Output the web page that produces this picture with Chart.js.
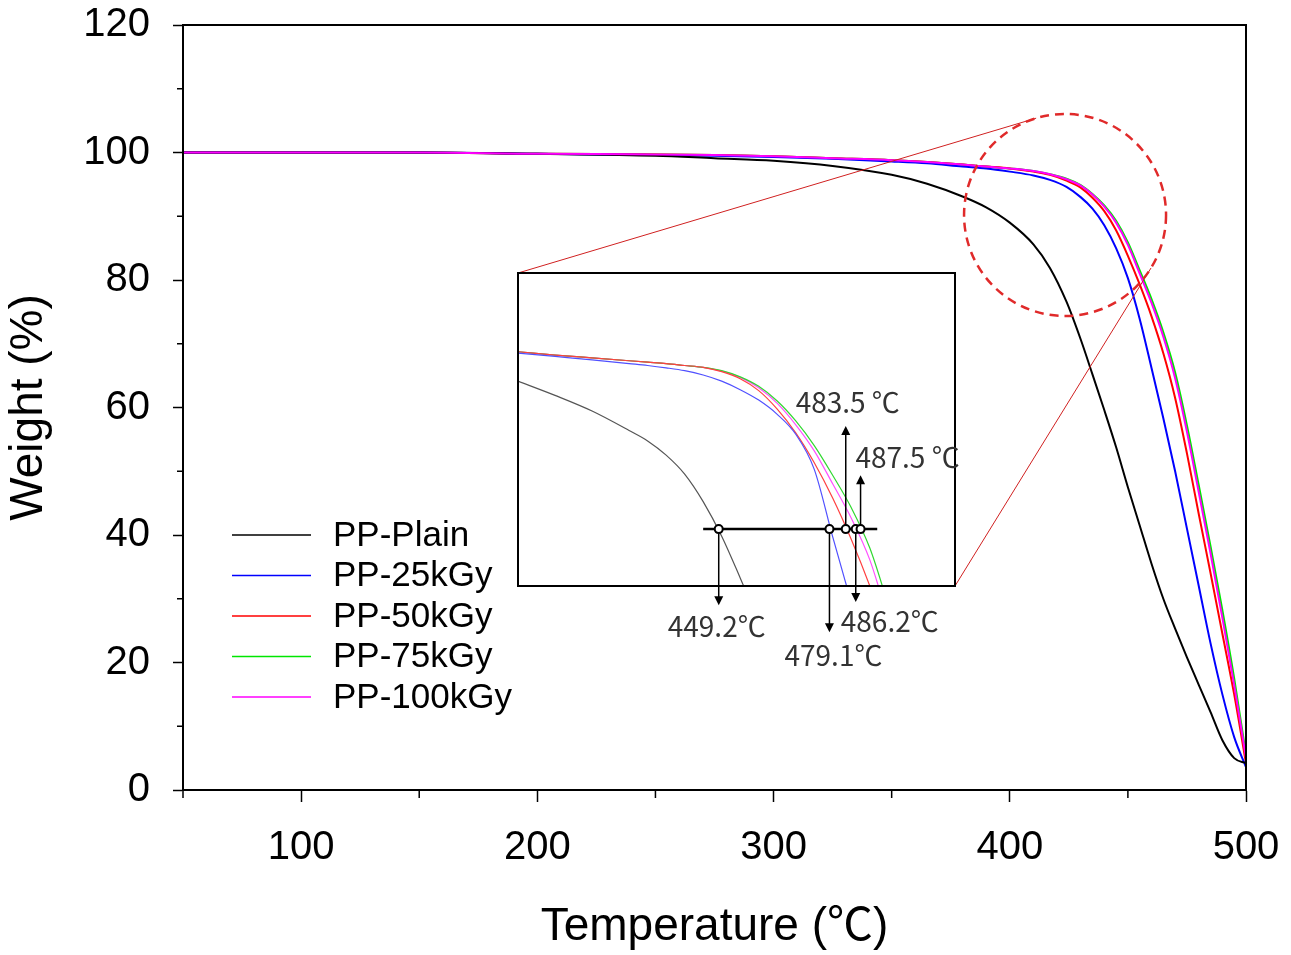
<!DOCTYPE html>
<html>
<head>
<meta charset="utf-8">
<script src="https://cdn.jsdelivr.net/npm/chart.js@4.4.0/dist/chart.umd.min.js"></script>
<style>
  body { margin: 0; background: #fff; }
  #wrap { position: relative; width: 1291px; height: 955px; }
  #mainChart { position: absolute; left: 0; top: 0; }
  #insetChart { position: absolute; left: 500px; top: 260px; }
</style>
</head>
<body>
<div id="wrap">
  <canvas id="mainChart" width="1291" height="955"></canvas>
  <canvas id="insetChart" width="480" height="420"></canvas>
</div>
<script>
// TGA curves, weight (%) vs temperature
const temps = [50, 100, 150, 200, 250, 275, 300, 325, 350, 365, 380, 390, 400, 410, 417, 424, 430, 435, 440, 445, 450, 455, 460, 465, 470, 475, 480, 485, 490, 495, 500];
const plain = [100, 100, 100, 99.8, 99.5, 99.1, 98.7, 97.9, 96.5, 95.1, 93.1, 91.4, 89.0, 85.6, 81.9, 76.6, 70.7, 65.2, 59.6, 53.8, 47.5, 41.5, 35.5, 30.0, 25.3, 20.8, 16.5, 12.2, 7.8, 5.0, 4.2];
const kgy25 = [100, 100, 100, 99.8, 99.6, 99.5, 99.3, 99.0, 98.6, 98.3, 97.8, 97.5, 97.0, 96.4, 95.7, 94.6, 93.0, 91.2, 88.6, 85.0, 80.3, 73.9, 66.2, 58.3, 50.0, 41.0, 32.0, 23.0, 15.0, 8.3, 3.6];
const kgy50 = [100, 100, 100, 99.8, 99.7, 99.6, 99.4, 99.1, 98.8, 98.5, 98.1, 97.8, 97.5, 97.0, 96.5, 95.6, 94.5, 92.9, 90.8, 87.8, 83.8, 79.3, 74.3, 68.5, 61.5, 52.8, 43.3, 34.0, 24.5, 15.0, 4.2];
const kgy75 = [100, 100, 100, 99.8, 99.7, 99.6, 99.4, 99.1, 98.8, 98.5, 98.1, 97.8, 97.5, 97.1, 96.6, 95.9, 94.9, 93.5, 91.7, 89.3, 85.9, 81.5, 77.0, 71.8, 65.5, 57.2, 47.8, 38.2, 28.2, 17.5, 5.5];
const kgy100 = [100, 100, 100, 99.8, 99.7, 99.6, 99.4, 99.1, 98.8, 98.5, 98.1, 97.8, 97.5, 97.1, 96.6, 95.8, 94.8, 93.4, 91.5, 89.0, 85.5, 81.0, 76.4, 71.1, 64.6, 56.2, 46.7, 37.1, 27.0, 16.5, 5.0];

const seriesNames = ["PP-Plain", "PP-25kGy", "PP-50kGy", "PP-75kGy", "PP-100kGy"];
const seriesData = [plain, kgy25, kgy50, kgy75, kgy100];
const seriesColors = ["#000000", "#0000ff", "#ff0000", "#00e600", "#ff00ff"];
const drawOrder = [1, 2, 3, 4, 0];

const xMajorTicks = [100, 200, 300, 400, 500];
const xMinorTicks = [50, 150, 250, 350, 450];
const yMajorTicks = [0, 20, 40, 60, 80, 100, 120];
const yMinorTicks = [10, 30, 50, 70, 90, 110];

// zoomed inset (its own temperature scale, as drawn in the figure)
const insetTemps = [395, 405, 415, 425, 430, 435, 440, 445, 450, 455, 460, 465, 470, 475, 480, 485, 490, 495];
const insetPlain = [81.2, 78.2, 74.9, 70.8, 68.6, 65.6, 61.6, 55.8, 48.5, 39.7, 30.5, null, null, null, null, null, null, null];
const inset25 = [87.1, 86.4, 85.7, 84.9, 84.5, 84.0, 83.4, 82.5, 81.2, 79.4, 77.2, 74.2, 70.0, 62.6, 48.3, 34.5, null, null];
const inset50 = [87.4, 86.7, 86.1, 85.5, 85.2, 84.9, 84.5, 84.1, 83.2, 81.7, 79.2, 75.3, 70.3, 64.0, 56.5, 47.8, 38.0, 27.0];
const inset75 = [87.4, 86.7, 86.1, 85.5, 85.2, 84.9, 84.5, 84.1, 83.4, 82.1, 80.1, 77.0, 72.8, 67.6, 61.3, 54.5, 46.0, 34.0];
const inset100 = [87.4, 86.7, 86.1, 85.5, 85.2, 84.9, 84.5, 84.1, 83.3, 82.0, 79.8, 76.5, 72.0, 66.5, 59.5, 52.3, 43.5, 31.0];
const insetSeries = [insetPlain, inset25, inset50, inset75, inset100];
const insetColors = ["#555555", "#5050ff", "#ff4040", "#30d830", "#ff50ff"];

const isoWeight = 50;
const isoRange = [445, 492];
const onsetTemps = [449.2, 479.1, 483.5, 486.2, 487.5];
const onsetLabels = ["449.2℃", "479.1℃", "483.5 ℃", "486.2℃", "487.5 ℃"];
const arrowEnds = [35.0, 29.3, 70.7, 35.7, 60.3];

// circled region on the main plot
const zoomCenter = [423.4, 90.2];

const labelOffsets = [[-2, 26], [4, 28], [2, -29], [34, 24], [47, -23]];

Chart.defaults.font.family = "'Liberation Sans', Arial, sans-serif";
Chart.defaults.color = "#000";

const insetFrame = {
  id: "insetFrame",
  beforeDatasetsDraw(chart) {
    const { ctx, chartArea: a } = chart;
    ctx.save();
    ctx.fillStyle = "#fff";
    ctx.fillRect(a.left, a.top, a.right - a.left, a.bottom - a.top);
    ctx.restore();
  },
  afterDatasetsDraw(chart) {
    const { ctx, chartArea: a, scales: { x, y } } = chart;
    ctx.save();
    ctx.strokeStyle = "#000";
    ctx.lineWidth = 2;
    ctx.strokeRect(a.left, a.top, a.right - a.left, a.bottom - a.top);
    // arrow heads
    ctx.fillStyle = "#000";
    onsetTemps.forEach((t, i) => {
      const px = x.getPixelForValue(t);
      const py = y.getPixelForValue(arrowEnds[i]);
      const d = arrowEnds[i] < isoWeight ? 1 : -1;
      ctx.beginPath();
      ctx.moveTo(px, py + d * 5);
      ctx.lineTo(px - 4.5, py - d * 4);
      ctx.lineTo(px + 4.5, py - d * 4);
      ctx.closePath();
      ctx.fill();
    });
    ctx.font = "28px 'Noto Sans CJK KR', 'Noto Sans', sans-serif";
    ctx.fillStyle = "#333";
    ctx.textAlign = "center";
    ctx.textBaseline = "middle";
    onsetLabels.forEach((txt, i) => {
      const px = x.getPixelForValue(onsetTemps[i]) + labelOffsets[i][0];
      const py = y.getPixelForValue(arrowEnds[i]) + labelOffsets[i][1];
      ctx.fillText(txt, px, py);
    });
    ctx.restore();
  }
};

const insetDatasets = insetSeries.map((arr, i) => ({
  data: insetTemps.map((t, j) => ({ x: t, y: arr[j] })),
  borderColor: insetColors[i],
  borderWidth: 1.2,
  pointRadius: 0,
  cubicInterpolationMode: "monotone",
  order: 3
}));
insetDatasets.push({
  data: isoRange.map(t => ({ x: t, y: isoWeight })),
  borderColor: "#000",
  borderWidth: 2.5,
  pointRadius: 0,
  order: 1
});
onsetTemps.forEach((t, i) => {
  insetDatasets.push({
    data: [{ x: t, y: isoWeight }, { x: t, y: arrowEnds[i] }],
    borderColor: "#000",
    borderWidth: 1.5,
    pointRadius: 0,
    clip: false,
    order: 2
  });
});
insetDatasets.push({
  data: onsetTemps.map(t => ({ x: t, y: isoWeight })),
  showLine: false,
  pointRadius: 4,
  pointBackgroundColor: "#fff",
  pointBorderColor: "#000",
  pointBorderWidth: 2,
  order: 0
});

const insetChart = new Chart(document.getElementById("insetChart"), {
  type: "line",
  data: { datasets: insetDatasets },
  options: {
    responsive: false,
    animation: false,
    devicePixelRatio: 1,
    layout: { padding: { left: 18, top: 13, right: 25, bottom: 94 } },
    scales: {
      x: { type: "linear", min: 395, max: 513, display: false },
      y: { min: 38, max: 104, display: false }
    },
    plugins: { legend: { display: false }, tooltip: { enabled: false } }
  },
  plugins: [insetFrame]
});

function tangentPoint(p, cx, cy, r, pick) {
  const dx = p[0] - cx, dy = p[1] - cy;
  const d = Math.hypot(dx, dy);
  const a = Math.atan2(dy, dx);
  const b = Math.acos(r / d);
  const t1 = [cx + r * Math.cos(a + b), cy + r * Math.sin(a + b)];
  const t2 = [cx + r * Math.cos(a - b), cy + r * Math.sin(a - b)];
  return pick(t1, t2);
}

const frameAndTicks = {
  id: "frameAndTicks",
  afterDraw(chart) {
    const { ctx, chartArea: a, scales: { x, y } } = chart;
    ctx.save();
    ctx.strokeStyle = "#000";
    ctx.lineWidth = 1.5;
    ctx.beginPath();
    xMinorTicks.forEach(v => {
      const px = x.getPixelForValue(v);
      ctx.moveTo(px, a.bottom);
      ctx.lineTo(px, a.bottom + 8);
    });
    yMinorTicks.forEach(v => {
      const py = y.getPixelForValue(v);
      ctx.moveTo(a.left, py);
      ctx.lineTo(a.left - 6, py);
    });
    ctx.stroke();
    ctx.lineWidth = 2;
    ctx.strokeRect(a.left, a.top, a.right - a.left, a.bottom - a.top);
    ctx.restore();
  }
};

const zoomCallout = {
  id: "zoomCallout",
  afterDatasetsDraw(chart) {
    const { ctx, scales: { x, y } } = chart;
    const cx = x.getPixelForValue(zoomCenter[0]);
    const cy = y.getPixelForValue(zoomCenter[1]);
    const r = 101;
    const box = insetChart.chartArea;
    const ox = 500, oy = 260;
    const c1 = [ox + box.left, oy + box.top];
    const c2 = [ox + box.right, oy + box.bottom];
    const t1 = tangentPoint(c1, cx, cy, r, (p, q) => (p[1] < q[1] ? p : q));
    const t2 = tangentPoint(c2, cx, cy, r, (p, q) => (p[0] > q[0] ? p : q));
    ctx.save();
    ctx.strokeStyle = "#d02020";
    ctx.lineWidth = 1;
    ctx.beginPath();
    ctx.moveTo(c1[0], c1[1]);
    ctx.lineTo(t1[0], t1[1]);
    ctx.moveTo(c2[0], c2[1]);
    ctx.lineTo(t2[0], t2[1]);
    ctx.stroke();
    ctx.strokeStyle = "#e02a2a";
    ctx.lineWidth = 2.5;
    ctx.setLineDash([9, 6]);
    ctx.beginPath();
    ctx.arc(cx, cy, r, 0, Math.PI * 2);
    ctx.stroke();
    ctx.restore();
  }
};

const legendBox = {
  id: "legendBox",
  afterDraw(chart) {
    const ctx = chart.ctx;
    ctx.save();
    ctx.font = "35px 'Liberation Sans', Arial, sans-serif";
    ctx.textBaseline = "middle";
    ctx.fillStyle = "#000";
    seriesNames.forEach((name, i) => {
      const yy = 535 + i * 40.5;
      ctx.strokeStyle = seriesColors[i];
      ctx.lineWidth = 1.5;
      ctx.beginPath();
      ctx.moveTo(232, yy);
      ctx.lineTo(311, yy);
      ctx.stroke();
      ctx.fillText(name, 333, yy + 1);
    });
    ctx.restore();
  }
};

const mainDatasets = seriesNames.map((name, i) => ({
  label: name,
  data: temps.map((t, j) => ({ x: t, y: seriesData[i][j] })),
  borderColor: seriesColors[i],
  borderWidth: 2,
  pointRadius: 0,
  cubicInterpolationMode: "monotone",
  order: drawOrder[i]
}));

new Chart(document.getElementById("mainChart"), {
  type: "line",
  data: { datasets: mainDatasets },
  options: {
    responsive: false,
    animation: false,
    devicePixelRatio: 1,
    layout: { padding: { left: 0, top: 25, right: 45, bottom: 0 } },
    scales: {
      x: {
        type: "linear",
        min: 50,
        max: 500,
        afterBuildTicks: s => { s.ticks = xMajorTicks.map(v => ({ value: v })); },
        afterFit: s => { s.height = 165; s.paddingLeft = 0; s.paddingRight = 0; },
        ticks: { font: { size: 40 }, padding: 22, maxRotation: 0 },
        grid: { drawOnChartArea: false, tickLength: 12, tickColor: "#000", tickWidth: 1.5 },
        border: { color: "#000", width: 2 },
        title: {
          display: true,
          text: "Temperature (℃)",
          font: { size: 46, family: "'Liberation Sans', 'Noto Sans CJK KR', sans-serif" },
          padding: { top: 5, bottom: 0 }
        }
      },
      y: {
        min: 0,
        max: 120,
        afterBuildTicks: s => { s.ticks = yMajorTicks.map(v => ({ value: v })); },
        afterFit: s => { s.width = 183; s.paddingTop = 0; s.paddingBottom = 0; },
        ticks: { font: { size: 40 }, padding: 23 },
        grid: { drawOnChartArea: false, tickLength: 10, tickColor: "#000", tickWidth: 1.5 },
        border: { color: "#000", width: 2 },
        title: {
          display: true,
          text: "Weight (%)",
          font: { size: 46 },
          padding: { top: 2, bottom: 0 }
        }
      }
    },
    plugins: { legend: { display: false }, tooltip: { enabled: false } }
  },
  plugins: [zoomCallout, frameAndTicks, legendBox]
});
</script>
</body>
</html>
